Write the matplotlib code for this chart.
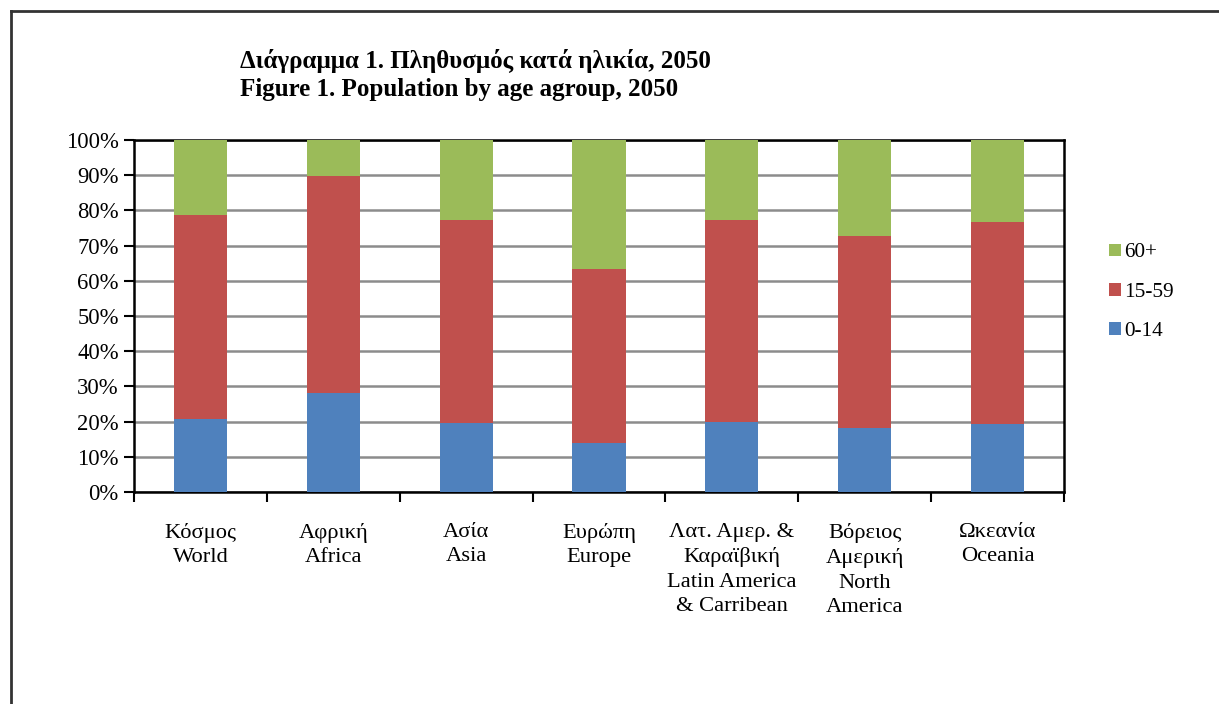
import numpy as np
import matplotlib.pyplot as plt
from matplotlib.lines import Line2D

plt.rcParams['font.family'] = ['Liberation Serif', 'DejaVu Serif']

regions = ['Κόσμος\nWorld', 'Αφρική\nAfrica', 'Ασία\nAsia', 'Ευρώπη\nEurope',
           'Λατ. Αμερ. &\nΚαραϊβική\nLatin America\n& Carribean',
           'Βόρειος\nΑμερική\nNorth\nAmerica', 'Ωκεανία\nOceania']
age_0_14 = [20.8, 28.0, 19.5, 13.8, 20.0, 18.3, 19.3]
age_15_59 = [57.9, 61.9, 57.8, 49.5, 57.3, 54.4, 57.3]
age_60 = [21.3, 10.1, 22.7, 36.7, 22.7, 27.3, 23.4]

c_blue = '#4F81BD'
c_red = '#C0504D'
c_green = '#9BBB59'

fig = plt.figure(figsize=(12.19, 7.04), dpi=100)
ax = fig.add_axes([0.1099, 0.3011, 0.7629, 0.5])

x = np.arange(len(regions))
a = np.array(age_0_14)
b = np.array(age_15_59)
c = np.array(age_60)
b1 = ax.bar(x, a, 0.4, color=c_blue, label='0-14', zorder=3)
b2 = ax.bar(x, b, 0.4, bottom=a, color=c_red, label='15-59', zorder=3)
b3 = ax.bar(x, c, 0.4, bottom=a + b, color=c_green, label='60+', zorder=3)

ax.set_xlim(-0.5, len(regions) - 0.5)
ax.set_ylim(0, 100)
ax.set_yticks(np.arange(0, 101, 10))
ax.set_yticklabels([f'{v}%' for v in range(0, 101, 10)])
ax.yaxis.grid(True, color='#8c8c8c', linewidth=1.8, zorder=0)

ax.set_xticks(np.arange(len(regions) + 1) - 0.5)
ax.set_xticklabels([])
ax.set_xticks(x, minor=True)
ax.set_xticklabels(regions, minor=True, fontsize=16.2, linespacing=1.39, va='top')
ax.tick_params(axis='x', which='minor', length=0, pad=22)
ax.tick_params(axis='x', which='major', length=7, width=1.5, direction='out')
ax.tick_params(axis='y', length=7, width=1.5, labelsize=16.3, pad=4)

for s in ax.spines.values():
    s.set_linewidth(1.8)
    s.set_color('black')

fig.legend([b3, b2, b1], ['60+', '15-59', '0-14'],
           loc='center left', bbox_to_anchor=(0.894, 0.585),
           frameon=False, fontsize=15.3, handlelength=0.55, handleheight=0.55,
           handletextpad=0.15, labelspacing=0.95)

fig.text(0.197, 0.857, 'Διάγραμμα 1. Πληθυσμός κατά ηλικία, 2050\nFigure 1. Population by age agroup, 2050',
         fontsize=18, fontweight='bold', va='bottom', ha='left', linespacing=1.27)

# outer frame (left and top edges visible)
fig.add_artist(Line2D([0.0087, 0.0087], [0, 0.985], transform=fig.transFigure, color='#333333', lw=2))
fig.add_artist(Line2D([0.0087, 0.999], [0.985, 0.985], transform=fig.transFigure, color='#333333', lw=2))

plt.savefig('out.png', dpi=100)
